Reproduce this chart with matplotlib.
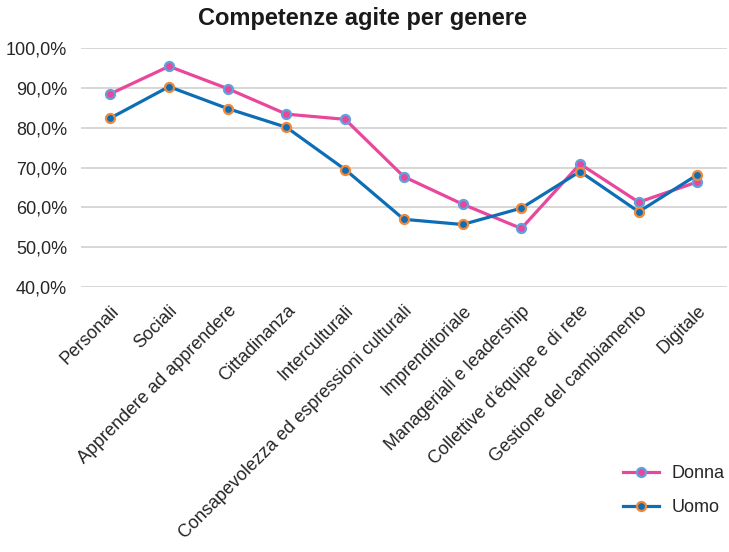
import matplotlib
matplotlib.use("Agg")
import matplotlib.pyplot as plt
from matplotlib.ticker import FuncFormatter

plt.rcParams['font.family'] = ['Liberation Sans', 'DejaVu Sans']

categorie = ["Personali", "Sociali", "Apprendere ad apprendere", "Cittadinanza",
             "Interculturali", "Consapevolezza ed espressioni culturali",
             "Imprenditoriale", "Manageriali e leadership",
             "Collettive d’équipe e di rete", "Gestione del cambiamento", "Digitale"]
donna = [88.5, 95.4, 89.8, 83.4, 82.1, 67.7, 60.8, 54.7, 70.9, 61.3, 66.4]
uomo = [82.4, 90.3, 84.8, 80.1, 69.5, 57.0, 55.7, 59.8, 69.0, 58.9, 68.2]
y_ticks = [40, 50, 60, 70, 80, 90, 100]

fig = plt.figure(figsize=(7.29, 5.52), dpi=100)
ax = fig.add_axes([0.111, 0.48, 0.886, 0.433])

x = list(range(len(categorie)))
ax.plot(x, donna, color="#E8479C", lw=2.3, marker="o", ms=6.5,
        mfc="#E8479C", mec="#5FA2DC", mew=1.6, label="Donna", zorder=3)
ax.plot(x, uomo, color="#0E6EB5", lw=2.3, marker="o", ms=6.5,
        mfc="#0E6EB5", mec="#F08A3A", mew=1.6, label="Uomo", zorder=3)

ax.set_xlim(-0.5, len(categorie) - 0.5)
ax.set_ylim(40, 100)
ax.set_yticks(y_ticks)
ax.yaxis.set_major_formatter(FuncFormatter(lambda v, p: f"{v:.1f}%".replace(".", ",")))
ax.grid(axis="y", color="#D4D4D4", lw=1.3)
ax.set_axisbelow(True)
for s in ax.spines.values():
    s.set_visible(False)
ax.tick_params(length=0, labelsize=13, colors="#262626")
ax.tick_params(axis="y", pad=10)
ax.tick_params(axis="x", pad=11)
ax.set_xticks(x)
ax.set_xticklabels(categorie, rotation=45, ha="right", rotation_mode="anchor")

fig.text(362 / 729, 1 - 18 / 552, "Competenze agite per genere", fontsize=17,
         fontweight="bold", color="#1a1a1a", ha="center", va="center")

fig.legend(loc="center left", bbox_to_anchor=(623 / 729, 1 - 490.5 / 552),
           frameon=False, fontsize=13, handlelength=2.0, labelspacing=0.95,
           handletextpad=0.7, borderpad=0, borderaxespad=0, labelcolor="#262626")

fig.savefig("out.png", dpi=100)
